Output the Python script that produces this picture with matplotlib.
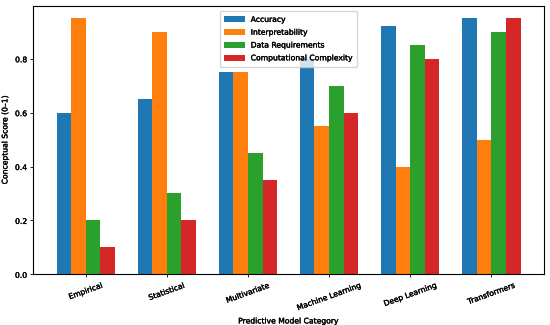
import matplotlib
matplotlib.use("Agg")
import matplotlib.pyplot as plt
import matplotlib.patheffects as pe
import numpy as np

categories = ["Empirical", "Statistical", "Multivariate", "Machine Learning", "Deep Learning", "Transformers"]
series_names = ["Accuracy", "Interpretability", "Data Requirements", "Computational Complexity"]
accuracy = [0.60, 0.65, 0.75, 0.80, 0.92, 0.95]
interpretability = [0.95, 0.90, 0.75, 0.55, 0.40, 0.50]
data_requirements = [0.20, 0.30, 0.45, 0.70, 0.85, 0.90]
computational_complexity = [0.10, 0.20, 0.35, 0.60, 0.80, 0.95]
series = [accuracy, interpretability, data_requirements, computational_complexity]
colors = ["#1f77b4", "#ff7f0e", "#2ca02c", "#d62728"]

fs = 5.5
fig = plt.figure(figsize=(5.5, 3.25), dpi=100)
ax = fig.add_axes([0.0606, 0.156, 0.928, 0.827])
x = np.arange(len(categories))
w = 0.18
for i, (name, vals) in enumerate(zip(series_names, series)):
    ax.bar(x + (i - 1.5) * w, vals, w, label=name, color=colors[i])

stroke = [pe.withStroke(linewidth=0.25, foreground="black")]
ax.set_xticks(x)
ax.set_xticklabels(categories, rotation=20, ha="center", fontsize=fs)
ax.tick_params(axis="y", labelsize=fs)
ax.tick_params(length=2.5, width=0.6, pad=2)
ax.set_xlabel("Predictive Model Category", fontsize=fs, labelpad=3)
ax.set_ylabel("Conceptual Score (0\u20131)", fontsize=fs, labelpad=4)
for s in ax.spines.values():
    s.set_linewidth(0.8)
leg = ax.legend(loc="upper center", fontsize=fs, handlelength=2.7, handleheight=0.8,
                borderpad=0.55, labelspacing=0.5, bbox_to_anchor=(0.5, 0.995))
texts = list(leg.get_texts()) + ax.get_xticklabels() + ax.get_yticklabels() + [ax.xaxis.label, ax.yaxis.label]
for t in texts:
    t.set_path_effects(stroke)
fig.savefig("out.png", dpi=100)
